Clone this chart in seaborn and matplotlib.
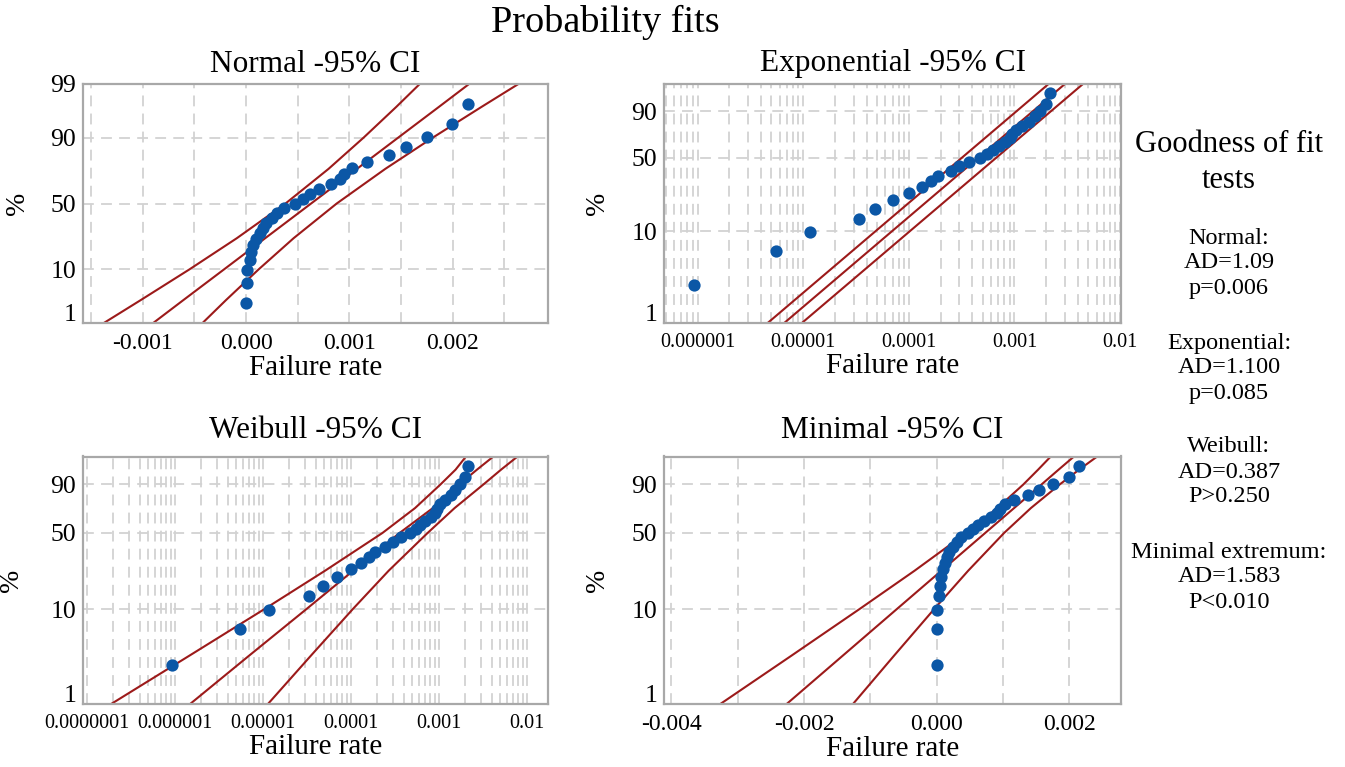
import numpy as np
import matplotlib
matplotlib.use("Agg")
import matplotlib.pyplot as plt
import seaborn as sns
from matplotlib.ticker import (FixedLocator, FixedFormatter, MultipleLocator,
                               LogLocator, NullFormatter, NullLocator, FuncFormatter)
from statistics import NormalDist

# ---------------- data ----------------
failure_rate = [9.3e-7, 5.5e-6, 1.17e-5, 3.4e-5, 4.8e-5, 7.0e-5, 1.0e-4, 1.33e-4,
                1.62e-4, 1.9e-4, 2.48e-4, 3.0e-4, 3.7e-4, 4.7e-4, 5.55e-4, 6.2e-4,
                7.1e-4, 8.2e-4, 9.1e-4, 9.5e-4, 1.03e-3, 1.17e-3, 1.38e-3, 1.55e-3,
                1.75e-3, 1.99e-3, 2.15e-3]
percent = [2.6, 6.2, 9.9, 13.5, 17.2, 20.8, 24.5, 28.1, 31.8, 35.4, 39.1, 42.7, 46.4,
           50.0, 53.6, 57.3, 60.9, 64.6, 68.2, 71.9, 75.5, 79.2, 82.8, 86.5, 90.1,
           93.8, 97.4]

# fitted line and 95% confidence bounds (failure rate read at given percent levels)
normal_levels = [1, 3, 10, 25, 50, 75, 90, 97, 99]
normal_fit = [-0.000900, -0.000608, -0.000213, 0.000186, 0.000630, 0.001074, 0.001473,
              0.001868, 0.002160]
normal_lower = [-0.001378, -0.001021, -0.000548, -0.000089, 0.000382, 0.000799,
                0.001138, 0.001455, 0.001682]
normal_upper = [-0.000422, -0.000195, 0.000122, 0.000461, 0.000878, 0.001349,
                0.001808, 0.002281, 0.002638]

expo_levels = [1, 99]
expo_fit = [6.6e-6, 3.0e-3]
expo_lower = [4.6e-6, 2.1e-3]
expo_upper = [9.7e-6, 4.45e-3]

weib_levels = [1, 3.28, 10, 23.85, 50, 72.3, 90, 96.4, 99]
weib_fit = [1.5e-6, 7.05e-6, 3.15e-5, 1.07e-4, 3.6e-4, 8.6e-4, 1.71e-3, 2.73e-3, 4.2e-3]
weib_lower = [1.9e-7, 1.48e-6, 1.05e-5, 5.13e-5, 2.3e-4, 5.4e-4, 1.05e-3, 1.56e-3, 2.05e-3]
weib_upper = [1.15e-5, 3.55e-5, 1.06e-4, 2.71e-4, 7.5e-4, 1.52e-3, 3.23e-3, 5.13e-3, 7.9e-3]

min_levels = [1, 3.28, 10, 23.85, 50, 72.3, 90, 96.4, 99]
min_fit = [-0.002261, -0.001413, -0.000600, 0.000072, 0.000732, 0.001168, 0.001581,
           0.001839, 0.002071]
min_lower = [-0.003261, -0.002186, -0.001163, -0.000332, 0.000447, 0.000915, 0.001307,
             0.001530, 0.001721]
min_upper = [-0.001261, -0.000640, -0.000037, 0.000476, 0.001017, 0.001421, 0.001855,
             0.002148, 0.002421]

titles = ["Normal -95% CI", "Exponential -95% CI", "Weibull -95% CI", "Minimal -95% CI"]
exp_ticks = [1e-6, 1e-5, 1e-4, 1e-3, 1e-2]
exp_ticklabels = ["0.000001", "0.00001", "0.0001", "0.001", "0.01"]
weib_ticks = [1e-7, 1e-6, 1e-5, 1e-4, 1e-3, 1e-2]
weib_ticklabels = ["0.0000001", "0.000001", "0.00001", "0.0001", "0.001", "0.01"]

gof_lines = ["Normal:", "AD=1.09", "p=0.006",
             "Exponential:", "AD=1.100", "p=0.085",
             "Weibull:", "AD=0.387", "P>0.250",
             "Minimal extremum:", "AD=1.583", "P<0.010"]

# ---------------- style ----------------
sns.set_style("white")
plt.rcParams["font.family"] = ["Liberation Serif", "DejaVu Serif"]
plt.rcParams["axes.unicode_minus"] = False
for k in ("text.color", "axes.labelcolor", "xtick.color", "ytick.color"):
    plt.rcParams[k] = "black"

PT = "#0b57a6"
LN = "#9c1a1a"
GRID = "#d2d2d2"
SPINE = "#a8a8a8"

_nd = NormalDist()


def norm_fwd(p):
    p = np.clip(np.asarray(p, float), 1e-9, 100 - 1e-9) / 100.0
    return np.vectorize(_nd.inv_cdf, otypes=[float])(p)


def norm_inv(z):
    z = np.clip(np.asarray(z, float), -30, 30)
    return np.vectorize(_nd.cdf, otypes=[float])(z) * 100.0


def sev_fwd(p):
    p = np.clip(np.asarray(p, float), 1e-9, 100 - 1e-9) / 100.0
    return np.log(-np.log1p(-p))


def sev_inv(u):
    u = np.clip(np.asarray(u, float), -60, 4)
    return -np.expm1(-np.exp(u)) * 100.0


W, H = 1345, 767
fig = plt.figure(figsize=(W / 100, H / 100), dpi=100)


def box(x0, x1, ytop, ybot):
    return [x0 / W, 1 - ybot / H, (x1 - x0) / W, (ybot - ytop) / H]


ax_n = fig.add_axes(box(83, 547.5, 84, 323))
ax_e = fig.add_axes(box(664, 1121, 84, 323))
ax_w = fig.add_axes(box(83, 547.5, 456.5, 704))
ax_m = fig.add_axes(box(664, 1121, 456.5, 704))


def lin_fmt(v, pos):
    s = f"{v:.3f}"
    return "0.000" if s == "-0.000" else s


def finish(ax, title, kind, ylevels, xlim, title_pad, ylab_x, xlabsize, majors=None,
           labels=None, major_step=None, minor_step=None):
    ax.set_xlim(*xlim)
    ax.set_ylim(1, 99)
    ax.yaxis.set_major_locator(FixedLocator(ylevels))
    # the "1" label is drawn slightly raised (see below)
    ax.yaxis.set_major_formatter(FixedFormatter(["" if v == 1 else str(v) for v in ylevels]))
    ax.yaxis.set_minor_locator(NullLocator())
    ax.annotate("1", xy=(0, 1), xycoords=("axes fraction", "data"), xytext=(-5, 6),
                textcoords="offset points", ha="right", va="center", fontsize=18.5)
    if kind == "log":
        ax.xaxis.set_major_locator(FixedLocator(majors))
        ax.xaxis.set_major_formatter(FixedFormatter(labels))
        ax.xaxis.set_minor_locator(LogLocator(base=10, subs=np.arange(2, 10)))
        ax.xaxis.set_minor_formatter(NullFormatter())
    else:
        ax.xaxis.set_major_locator(MultipleLocator(major_step))
        ax.xaxis.set_major_formatter(FuncFormatter(lin_fmt))
        ax.xaxis.set_minor_locator(MultipleLocator(minor_step))
        ax.xaxis.set_minor_formatter(NullFormatter())
    ax.set_axisbelow(True)
    ax.xaxis.grid(True, which="both", color=GRID, lw=1.3, ls=(0, (6, 4)))
    ax.yaxis.grid(True, which="major", color=GRID, lw=1.3, ls=(0, (6, 4)))
    for sp in ax.spines.values():
        sp.set_visible(True)
        sp.set_color(SPINE)
        sp.set_linewidth(1.6)
    ax.tick_params(axis="x", which="major", length=5, width=1.2, color=SPINE,
                   direction="out", pad=2, labelsize=xlabsize)
    ax.tick_params(axis="x", which="minor", length=0)
    ax.tick_params(axis="y", which="both", length=0, pad=5, labelsize=18.5)
    ax.set_title(title, fontsize=22.5, pad=title_pad)
    ax.set_xlabel("Failure rate", fontsize=21, labelpad=1)
    ax.set_ylabel("%", fontsize=20)
    ax.yaxis.set_label_coords(ylab_x, 0.5)


def draw(ax, levels, fit, lo, hi):
    for vals in (lo, fit, hi):
        sns.lineplot(x=vals, y=levels, ax=ax, color=LN, lw=1.5, sort=False,
                     estimator=None, legend=False)
    sns.scatterplot(x=failure_rate, y=percent, ax=ax, color=PT, s=78,
                    edgecolor=PT, linewidth=0, zorder=3, legend=False)


# Normal
ax_n.set_yscale("function", functions=(norm_fwd, norm_inv))
ax_n.set_xlim(-0.00158, 0.00292)
draw(ax_n, normal_levels, normal_fit, normal_lower, normal_upper)
finish(ax_n, titles[0], "lin", [1, 10, 50, 90, 99], (-0.00158, 0.00292), 9, -0.115, 17,
       major_step=0.001, minor_step=0.0005)

# Exponential
ax_e.set_yscale("function", functions=(sev_fwd, sev_inv))
ax_e.set_xscale("log")
ax_e.set_xlim(4.8e-7, 1.02e-2)
draw(ax_e, expo_levels, expo_fit, expo_lower, expo_upper)
finish(ax_e, titles[1], "log", [1, 10, 50, 90], (4.8e-7, 1.02e-2), 9, -0.118, 14.5,
       majors=exp_ticks, labels=exp_ticklabels)

# Weibull
ax_w.set_yscale("function", functions=(sev_fwd, sev_inv))
ax_w.set_xscale("log")
ax_w.set_xlim(9.1e-8, 1.73e-2)
draw(ax_w, weib_levels, weib_fit, weib_lower, weib_upper)
finish(ax_w, titles[2], "log", [1, 10, 50, 90], (9.1e-8, 1.73e-2), 13, -0.128, 14.5,
       majors=weib_ticks, labels=weib_ticklabels)

# Minimal (smallest extreme value)
ax_m.set_yscale("function", functions=(sev_fwd, sev_inv))
ax_m.set_xlim(-0.00411, 0.00278)
draw(ax_m, min_levels, min_fit, min_lower, min_upper)
finish(ax_m, titles[3], "lin", [1, 10, 50, 90], (-0.00411, 0.00278), 13, -0.118, 17,
       major_step=0.002, minor_step=0.001)

# Figure title
fig.text(605 / W, 1 - 22 / H, "Probability fits", ha="center", va="center", fontsize=27.5)

# Goodness of fit block
fig.text(1229 / W, 1 - 145 / H, "Goodness of fit", ha="center", va="center", fontsize=22)
fig.text(1229 / W, 1 - 180 / H, "tests", ha="center", va="center", fontsize=22)
ys = [238, 263, 288, 343, 368, 394, 447, 472, 497, 552, 577, 602]
for txt, yy in zip(gof_lines, ys):
    fig.text(1229 / W, 1 - yy / H, txt, ha="center", va="center", fontsize=17.5)

fig.savefig("out.png", dpi=100)
